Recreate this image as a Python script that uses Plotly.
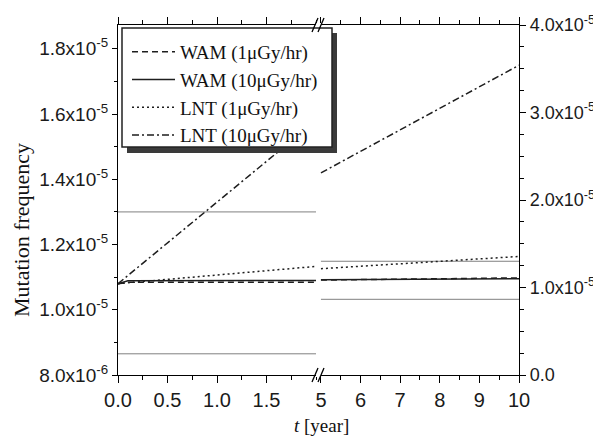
import plotly.graph_objects as go

# ---------------- data ----------------
# left panel (0 - 2 years), left axis
wam1_t_left = [0.0, 0.1, 2.0]
wam1_y_left = [1.080e-5, 1.084e-5, 1.084e-5]
wam10_t_left = [0.0, 0.1, 2.0]
wam10_y_left = [1.080e-5, 1.089e-5, 1.090e-5]
lnt1_t_left = [0.0, 2.0]
lnt1_y_left = [1.080e-5, 1.133e-5]
lnt10_t_left = [0.0, 2.0]
lnt10_y_left = [1.080e-5, 1.580e-5]

# right panel (5 - 10 years), right axis
t_right = [5.0, 10.0]
wam1_y_right = [1.085e-5, 1.110e-5]
wam10_y_right = [1.090e-5, 1.100e-5]
lnt1_y_right = [1.215e-5, 1.355e-5]
lnt10_y_right = [2.310e-5, 3.540e-5]

# thin grey reference levels
t_left_full = [0.0, 2.0]
ref_upper = [1.30e-5, 1.30e-5]
ref_lower = [8.65e-6, 8.65e-6]

# ticks
xl_ticks = [0.0, 0.5, 1.0, 1.5]
xl_text = ["0.0", "0.5", "1.0", "1.5"]
xr_ticks = [5, 6, 7, 8, 9, 10]
xr_text = ["5", "6", "7", "8", "9", "10"]
yl_ticks = [8e-6, 1.0e-5, 1.2e-5, 1.4e-5, 1.6e-5, 1.8e-5]
yl_text = ["8.0x10<sup>-6</sup>", "1.0x10<sup>-5</sup>", "1.2x10<sup>-5</sup>",
           "1.4x10<sup>-5</sup>", "1.6x10<sup>-5</sup>", "1.8x10<sup>-5</sup>"]
yr_ticks = [0.0, 1.0e-5, 2.0e-5, 3.0e-5, 4.0e-5]
yr_text = ["0.0", "1.0x10<sup>-5</sup>", "2.0x10<sup>-5</sup>",
           "3.0x10<sup>-5</sup>", "4.0x10<sup>-5</sup>"]

names = ["WAM (1\u03bcGy/hr)", "WAM (10\u03bcGy/hr)", "LNT (1\u03bcGy/hr)", "LNT (10\u03bcGy/hr)"]
dashes = ["6px,4px", "solid", "2px,3px", "7px,3px,2px,3px"]

# ---------------- geometry helpers ----------------
# page body has an 8px default margin -> figure is offset by 8px
OFF = 8
L, R, T, B = 118, 519, 25, 375     # plot area in page pixels
W, H = 601 - OFF, 439 - OFF
def px(x):
    return (x - L) / (R - L)
def py(y):
    return (B - y) / (B - T)

SPLIT = 316
dom_left = [0, px(SPLIT)]
dom_right = [px(SPLIT), 1]

LINE = "#1e1e1e"
GREY = "#808080"
SERIF = "Liberation Serif, Times New Roman, serif"
SANS = "Liberation Sans, Arial, sans-serif"

fig = go.Figure()

# reference grey levels
for tt, yy, xa, ya in [(t_left_full, ref_upper, "x", "y"), (t_left_full, ref_lower, "x", "y"),
                       (t_right, ref_upper, "x2", "y2"), (t_right, ref_lower, "x2", "y2")]:
    fig.add_trace(go.Scatter(x=tt, y=yy, xaxis=xa, yaxis=ya, mode="lines",
                             line=dict(color=GREY, width=1), showlegend=False, hoverinfo="skip"))

left_sets = [(wam1_t_left, wam1_y_left), (wam10_t_left, wam10_y_left),
             (lnt1_t_left, lnt1_y_left), (lnt10_t_left, lnt10_y_left)]
right_sets = [wam1_y_right, wam10_y_right, lnt1_y_right, lnt10_y_right]

for i in range(4):
    tt, yy = left_sets[i]
    fig.add_trace(go.Scatter(x=tt, y=yy, xaxis="x", yaxis="y", mode="lines", name=names[i],
                             line=dict(color=LINE, width=1.5, dash=dashes[i]),
                             legendgroup=f"g{i}", showlegend=True))
    fig.add_trace(go.Scatter(x=t_right, y=right_sets[i], xaxis="x2", yaxis="y2", mode="lines",
                             name=names[i], line=dict(color=LINE, width=1.5, dash=dashes[i]),
                             legendgroup=f"g{i}", showlegend=False))

axis_common = dict(showline=True, linecolor="black", linewidth=1.3, ticks="outside",
                   tickcolor="black", showgrid=False, zeroline=False, automargin=False)

fig.update_layout(
    width=W, height=H, autosize=False,
    margin=dict(l=L - OFF, r=W - (R - OFF), t=T - OFF, b=H - (B - OFF), pad=0, autoexpand=False),
    paper_bgcolor="white", plot_bgcolor="white",
    xaxis=dict(domain=dom_left, range=[0, 2.0], anchor="y", tickvals=xl_ticks, ticktext=xl_text,
               ticklen=7, mirror="ticks", minor=dict(dtick=0.25, ticklen=4, ticks="outside", tickcolor="black"),
               tickfont=dict(family=SANS, size=20, color="#1a1a1a"), **axis_common),
    yaxis=dict(domain=[0, 1], range=[8.0e-6, 1.873e-5], anchor="x", tickvals=yl_ticks, ticktext=yl_text,
               ticklen=5, minor=dict(dtick=1e-6, tick0=8e-6, ticklen=3, ticks="outside", tickcolor="black"),
               tickfont=dict(family=SANS, size=19, color="#1a1a1a"), **axis_common),
    xaxis2=dict(domain=dom_right, range=[4.875, 10], anchor="y2", tickvals=xr_ticks, ticktext=xr_text,
                ticklen=7, mirror="ticks", minor=dict(dtick=0.5, tick0=5, ticklen=4, ticks="outside", tickcolor="black"),
                tickfont=dict(family=SANS, size=20, color="#1a1a1a"), **axis_common),
    yaxis2=dict(domain=[0, 1], range=[0, 4.0e-5], anchor="x2", side="right", tickvals=yr_ticks, ticktext=yr_text,
                ticklen=6, minor=dict(dtick=2.5e-6, tick0=0, ticklen=4, ticks="outside", tickcolor="black"),
                tickfont=dict(family=SANS, size=18, color="#1a1a1a"), **axis_common),
    legend=dict(x=px(127), y=py(33), xanchor="left", yanchor="top", bgcolor="rgba(0,0,0,0)",
                borderwidth=0, font=dict(family=SERIF, size=19, color="#111"),
                itemwidth=43, tracegroupgap=0, traceorder="normal"),
    showlegend=True,
)

shapes = []
# legend shadow and box
shapes.append(dict(type="rect", xref="paper", yref="paper", x0=px(127), x1=px(337), y0=py(153), y1=py(33),
                   fillcolor="#3a3a3a", line=dict(width=0), layer="above"))
shapes.append(dict(type="rect", xref="paper", yref="paper", x0=px(122), x1=px(332), y0=py(147), y1=py(28),
                   fillcolor="white", line=dict(color="#222", width=1.5), layer="above"))
# axis break marks (top and bottom)
for yb in (T, B):
    shapes.append(dict(type="rect", xref="paper", yref="paper", x0=px(316), x1=px(321), y0=py(yb + 2), y1=py(yb - 2),
                       fillcolor="white", line=dict(width=0), layer="above"))
    for xb in (315, 321):
        shapes.append(dict(type="line", xref="paper", yref="paper", x0=px(xb - 3), x1=px(xb + 3),
                           y0=py(yb + 7), y1=py(yb - 7), line=dict(color="black", width=1.3), layer="above"))
fig.update_layout(shapes=shapes)

fig.add_annotation(text="<i>t</i> [year]", xref="paper", yref="paper", x=px(321), y=py(425),
                   xanchor="center", yanchor="middle",
                   showarrow=False, font=dict(family=SERIF, size=19, color="#111"))
fig.add_annotation(text="Mutation frequency", xref="paper", yref="paper", x=px(22), y=py(230),
                   xanchor="center", yanchor="middle",
                   showarrow=False, textangle=-90, font=dict(family=SERIF, size=22, color="#111"))

fig.write_html("out.html")
